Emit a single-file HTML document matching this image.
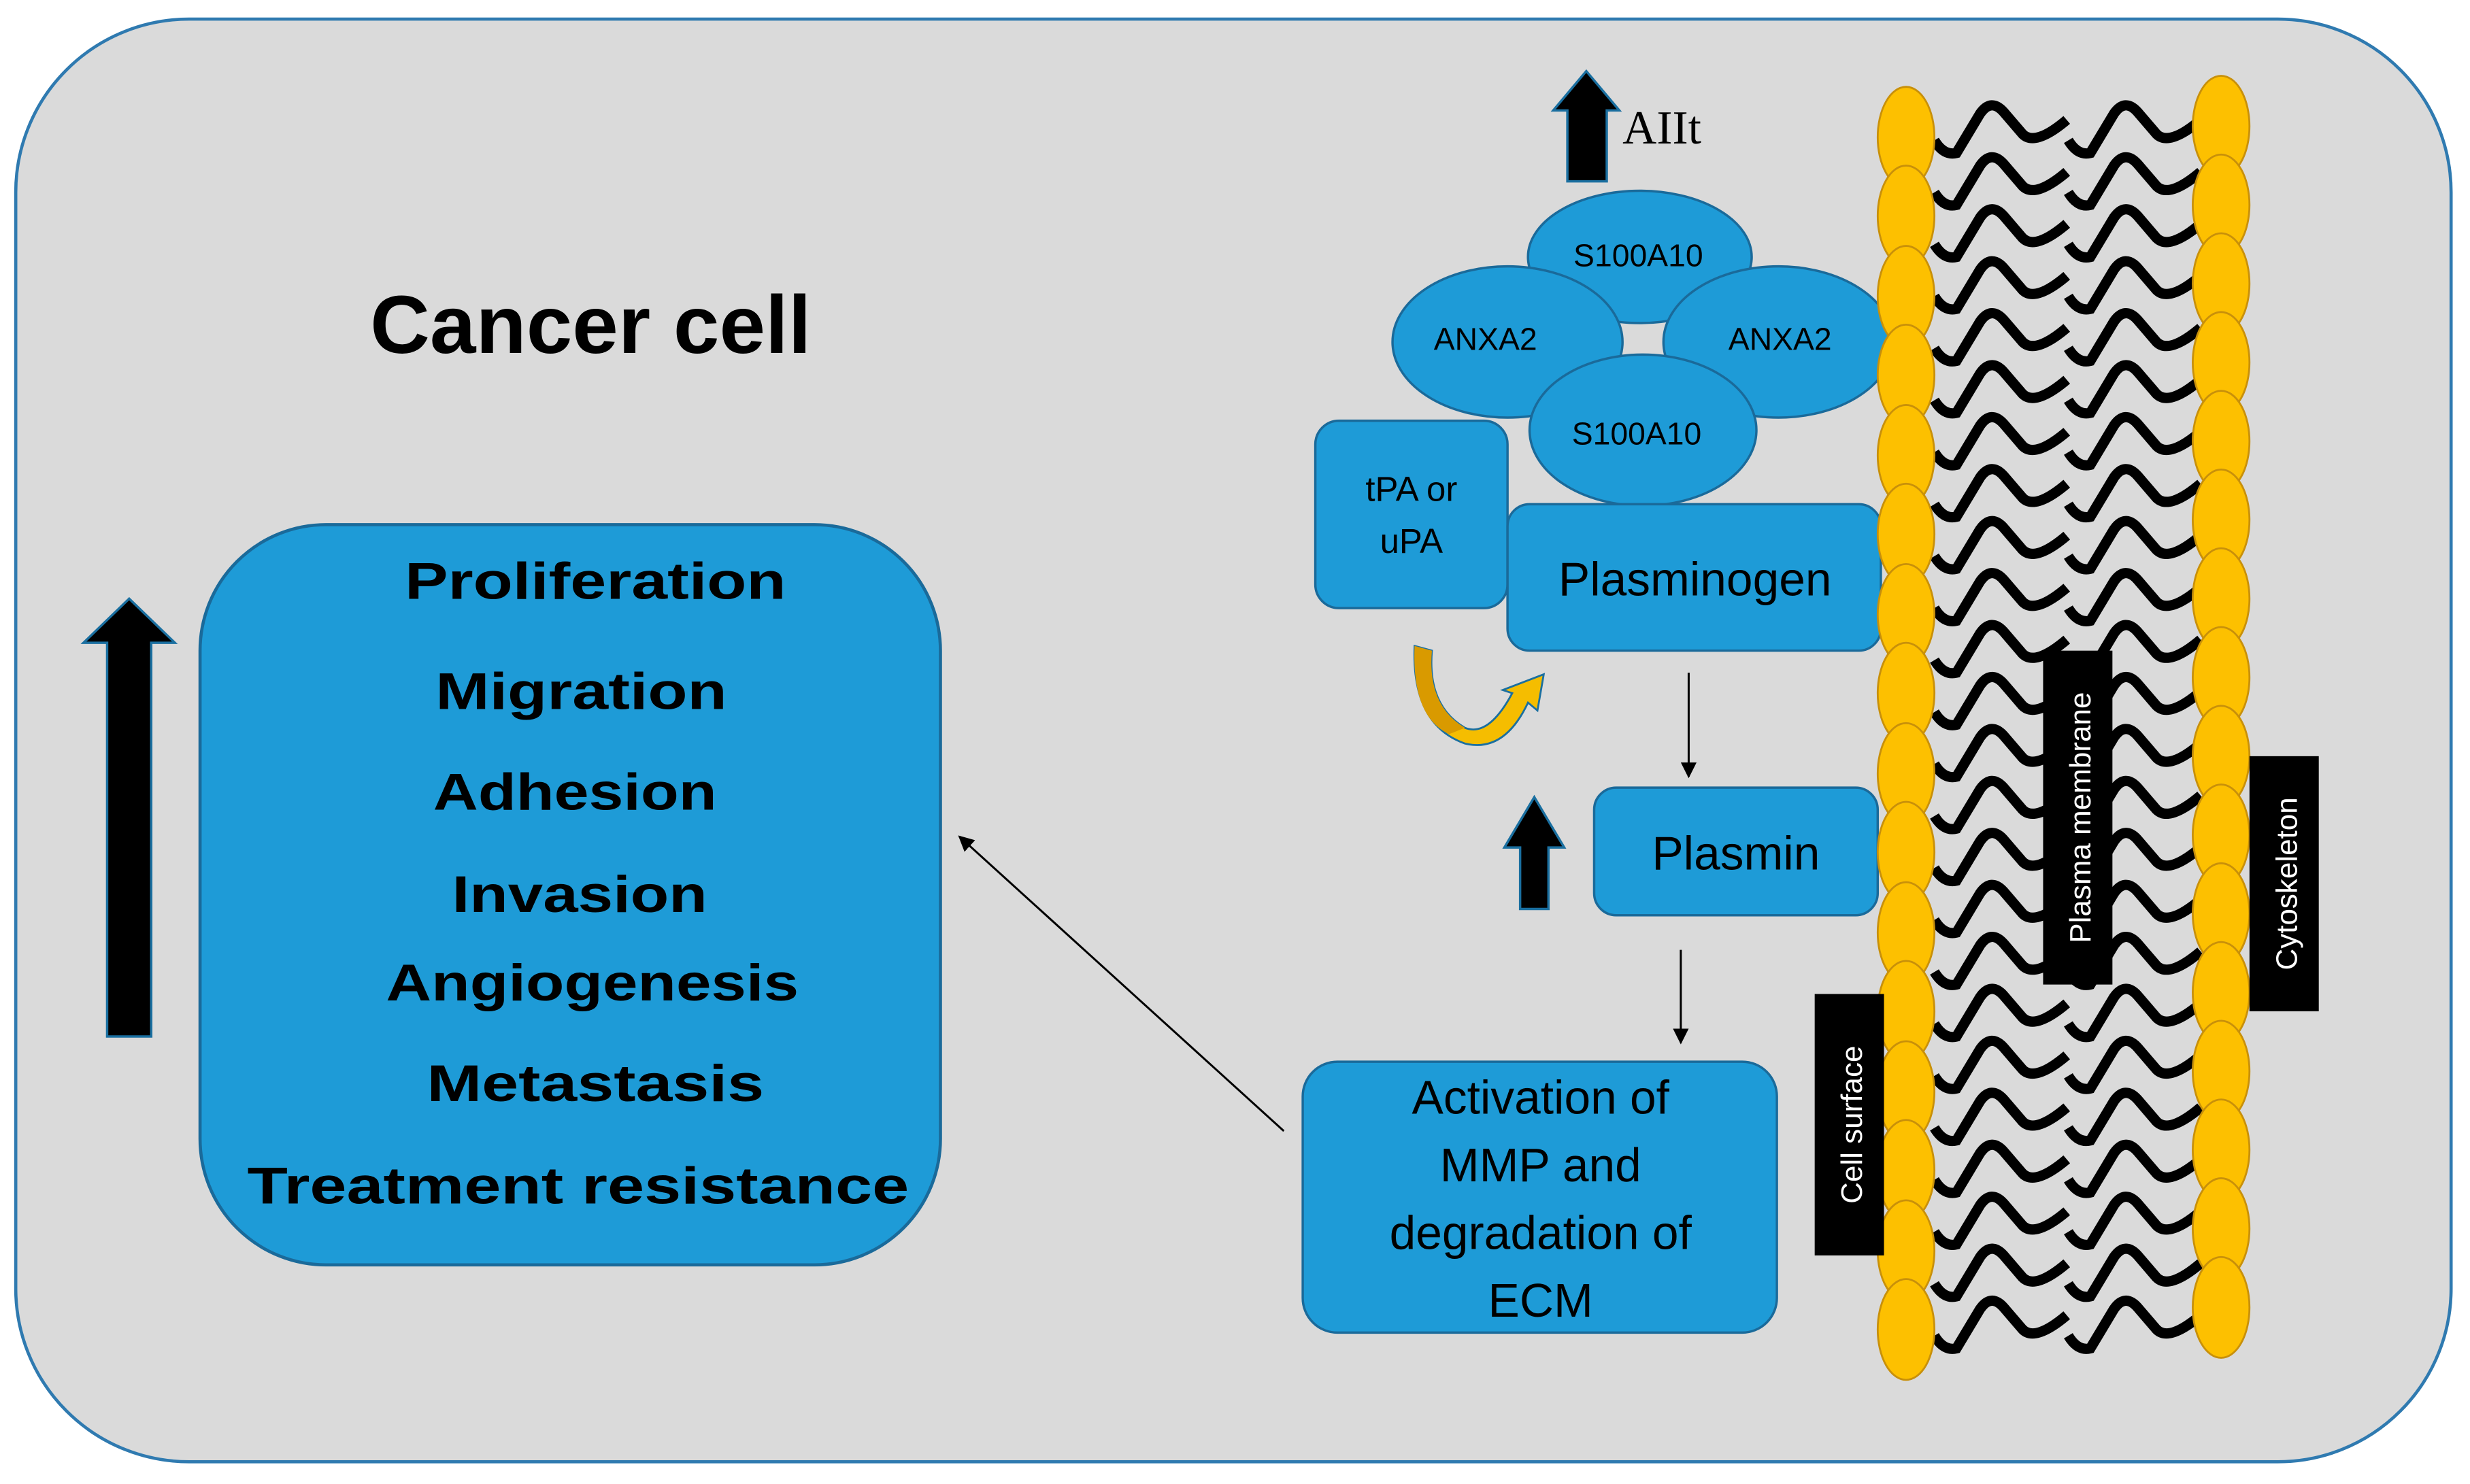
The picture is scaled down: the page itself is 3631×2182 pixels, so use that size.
<!DOCTYPE html>
<html><head><meta charset="utf-8"><style>
html,body{margin:0;padding:0;background:#fff;}
svg{display:block;}
</style></head><body>
<svg width="3631" height="2182" viewBox="0 0 1568 942" xmlns="http://www.w3.org/2000/svg" font-family="Liberation Sans, sans-serif">
<defs>
<marker id="ah" markerWidth="10" markerHeight="10" refX="9" refY="5" orient="auto" markerUnits="userSpaceOnUse">
<path d="M0,0 L10,5 L0,10 Z" fill="#000"/>
</marker>
<g id="wave"><path d="M0,0 Q6,10 14,8 L29,-17 Q36,-27 44,-18 L56,-4 Q64,4 84,-13" fill="none" stroke="#000" stroke-width="6.5"/></g>
</defs>
<rect x="10" y="12" width="1546" height="916" rx="110" fill="#dadada" stroke="#2f7ab0" stroke-width="2"/>
<text x="375" y="224" font-size="52" font-weight="bold" text-anchor="middle" textLength="280" lengthAdjust="spacingAndGlyphs">Cancer cell</text>

<path d="M68,658 L68,408 L53,408 L82,380 L111,408 L96,408 L96,658 Z" fill="#000" stroke="#1a6fa0" stroke-width="1.5"/>

<rect x="127" y="333" width="470" height="470" rx="80" fill="#1e9bd7" stroke="#1a6a9a" stroke-width="2"/>
<g font-size="33" font-weight="900" text-anchor="middle" fill="#000">
<text x="378" y="380" textLength="242" lengthAdjust="spacingAndGlyphs">Proliferation</text>
<text x="369" y="450" textLength="185" lengthAdjust="spacingAndGlyphs">Migration</text>
<text x="365" y="514" textLength="180" lengthAdjust="spacingAndGlyphs">Adhesion</text>
<text x="368" y="579" textLength="162" lengthAdjust="spacingAndGlyphs">Invasion</text>
<text x="376" y="635" textLength="262" lengthAdjust="spacingAndGlyphs">Angiogenesis</text>
<text x="378" y="699" textLength="214" lengthAdjust="spacingAndGlyphs">Metastasis</text>
<text x="367" y="764" textLength="420" lengthAdjust="spacingAndGlyphs">Treatment resistance</text>
</g>

<line x1="815" y1="718" x2="609" y2="531" stroke="#000" stroke-width="1.3" marker-end="url(#ah)"/>

<g stroke="#1a6a9a" stroke-width="1.5" fill="#1e9bd7">
<ellipse cx="1041" cy="163" rx="71" ry="42"/>
<ellipse cx="957" cy="217" rx="73" ry="48"/>
<ellipse cx="1129" cy="217" rx="73" ry="48"/>
<ellipse cx="1043" cy="273" rx="72" ry="48"/>
</g>
<g font-size="20" text-anchor="middle" fill="#000">
<text x="1040" y="169">S100A10</text>
<text x="943" y="222">ANXA2</text>
<text x="1130" y="222">ANXA2</text>
<text x="1039" y="282">S100A10</text>
</g>

<path d="M995,115 L995,70 L986,70 L1007,45 L1028,70 L1020,70 L1020,115 Z" fill="#000" stroke="#1a6fa0" stroke-width="1.5"/>
<text x="1030" y="91" font-family="Liberation Serif, serif" font-size="30" fill="#000">AIIt</text>

<rect x="835" y="267" width="122" height="119" rx="15" fill="#1e9bd7" stroke="#1a6a9a" stroke-width="1.5"/>
<text x="896" y="318" font-size="22" text-anchor="middle">tPA or</text>
<text x="896" y="351" font-size="22" text-anchor="middle">uPA</text>

<rect x="957" y="320" width="237" height="93" rx="14" fill="#1e9bd7" stroke="#1a6a9a" stroke-width="1.5"/>
<text x="1076" y="378" font-size="30" text-anchor="middle">Plasminogen</text>

<path d="M898,410 L909,413 Q906,448 930,462 Q945,468 960,440 L954,438 L980,428 L976,451 L970,446 Q955,478 930,472 Q896,460 898,410 Z" fill="#f5bd00" stroke="#1a6fa0" stroke-width="1.2"/>
<path d="M898,410 L909,413 Q906,448 930,462 L920,466 Q896,455 898,410 Z" fill="#d99a00"/>

<line x1="1072" y1="427" x2="1072" y2="493" stroke="#000" stroke-width="1.3" marker-end="url(#ah)"/>

<path d="M965,577 L965,538 L955,538 L974,506 L993,538 L983,538 L983,577 Z" fill="#000" stroke="#1a6fa0" stroke-width="1.5"/>

<rect x="1012" y="500" width="180" height="81" rx="14" fill="#1e9bd7" stroke="#1a6a9a" stroke-width="1.5"/>
<text x="1102" y="552" font-size="30" text-anchor="middle">Plasmin</text>

<line x1="1067" y1="603" x2="1067" y2="662" stroke="#000" stroke-width="1.3" marker-end="url(#ah)"/>

<rect x="827" y="674" width="301" height="172" rx="22" fill="#1e9bd7" stroke="#1a6a9a" stroke-width="1.5"/>
<g font-size="30" text-anchor="middle">
<text x="978" y="707">Activation of</text>
<text x="978" y="750">MMP and</text>
<text x="978" y="793">degradation of</text>
<text x="978" y="836">ECM</text>
</g>

<g>
<use href="#wave" x="1228" y="89"/><use href="#wave" x="1313" y="89"/>
<use href="#wave" x="1228" y="122"/><use href="#wave" x="1313" y="122"/>
<use href="#wave" x="1228" y="155"/><use href="#wave" x="1313" y="155"/>
<use href="#wave" x="1228" y="188"/><use href="#wave" x="1313" y="188"/>
<use href="#wave" x="1228" y="221"/><use href="#wave" x="1313" y="221"/>
<use href="#wave" x="1228" y="254"/><use href="#wave" x="1313" y="254"/>
<use href="#wave" x="1228" y="287"/><use href="#wave" x="1313" y="287"/>
<use href="#wave" x="1228" y="320"/><use href="#wave" x="1313" y="320"/>
<use href="#wave" x="1228" y="353"/><use href="#wave" x="1313" y="353"/>
<use href="#wave" x="1228" y="386"/><use href="#wave" x="1313" y="386"/>
<use href="#wave" x="1228" y="419"/><use href="#wave" x="1313" y="419"/>
<use href="#wave" x="1228" y="452"/><use href="#wave" x="1313" y="452"/>
<use href="#wave" x="1228" y="485"/><use href="#wave" x="1313" y="485"/>
<use href="#wave" x="1228" y="518"/><use href="#wave" x="1313" y="518"/>
<use href="#wave" x="1228" y="551"/><use href="#wave" x="1313" y="551"/>
<use href="#wave" x="1228" y="584"/><use href="#wave" x="1313" y="584"/>
<use href="#wave" x="1228" y="617"/><use href="#wave" x="1313" y="617"/>
<use href="#wave" x="1228" y="650"/><use href="#wave" x="1313" y="650"/>
<use href="#wave" x="1228" y="683"/><use href="#wave" x="1313" y="683"/>
<use href="#wave" x="1228" y="716"/><use href="#wave" x="1313" y="716"/>
<use href="#wave" x="1228" y="749"/><use href="#wave" x="1313" y="749"/>
<use href="#wave" x="1228" y="782"/><use href="#wave" x="1313" y="782"/>
<use href="#wave" x="1228" y="815"/><use href="#wave" x="1313" y="815"/>
<use href="#wave" x="1228" y="848"/><use href="#wave" x="1313" y="848"/>
</g>

<g fill="#fdc000" stroke="#c8900a" stroke-width="1.2">
<ellipse cx="1210" cy="87" rx="18" ry="32"/><ellipse cx="1210" cy="137" rx="18" ry="32"/>
<ellipse cx="1210" cy="188" rx="18" ry="32"/><ellipse cx="1210" cy="238" rx="18" ry="32"/>
<ellipse cx="1210" cy="289" rx="18" ry="32"/><ellipse cx="1210" cy="339" rx="18" ry="32"/>
<ellipse cx="1210" cy="390" rx="18" ry="32"/><ellipse cx="1210" cy="440" rx="18" ry="32"/>
<ellipse cx="1210" cy="491" rx="18" ry="32"/><ellipse cx="1210" cy="541" rx="18" ry="32"/>
<ellipse cx="1210" cy="592" rx="18" ry="32"/><ellipse cx="1210" cy="642" rx="18" ry="32"/>
<ellipse cx="1210" cy="693" rx="18" ry="32"/><ellipse cx="1210" cy="743" rx="18" ry="32"/>
<ellipse cx="1210" cy="794" rx="18" ry="32"/><ellipse cx="1210" cy="844" rx="18" ry="32"/>
<ellipse cx="1410" cy="80" rx="18" ry="32"/><ellipse cx="1410" cy="130" rx="18" ry="32"/>
<ellipse cx="1410" cy="180" rx="18" ry="32"/><ellipse cx="1410" cy="230" rx="18" ry="32"/>
<ellipse cx="1410" cy="280" rx="18" ry="32"/><ellipse cx="1410" cy="330" rx="18" ry="32"/>
<ellipse cx="1410" cy="380" rx="18" ry="32"/><ellipse cx="1410" cy="430" rx="18" ry="32"/>
<ellipse cx="1410" cy="480" rx="18" ry="32"/><ellipse cx="1410" cy="530" rx="18" ry="32"/>
<ellipse cx="1410" cy="580" rx="18" ry="32"/><ellipse cx="1410" cy="630" rx="18" ry="32"/>
<ellipse cx="1410" cy="680" rx="18" ry="32"/><ellipse cx="1410" cy="730" rx="18" ry="32"/>
<ellipse cx="1410" cy="780" rx="18" ry="32"/><ellipse cx="1410" cy="830" rx="18" ry="32"/>
</g>

<rect x="1297" y="413" width="44" height="212" fill="#000"/>
<text transform="translate(1327,519) rotate(-90)" font-size="19" fill="#fff" text-anchor="middle">Plasma membrane</text>
<rect x="1428" y="480" width="44" height="162" fill="#000"/>
<text transform="translate(1458,561) rotate(-90)" font-size="19" fill="#fff" text-anchor="middle">Cytoskeleton</text>
<rect x="1152" y="631" width="44" height="166" fill="#000"/>
<text transform="translate(1182,714) rotate(-90)" font-size="19" fill="#fff" text-anchor="middle">Cell surface</text>
</svg>
</body></html>
